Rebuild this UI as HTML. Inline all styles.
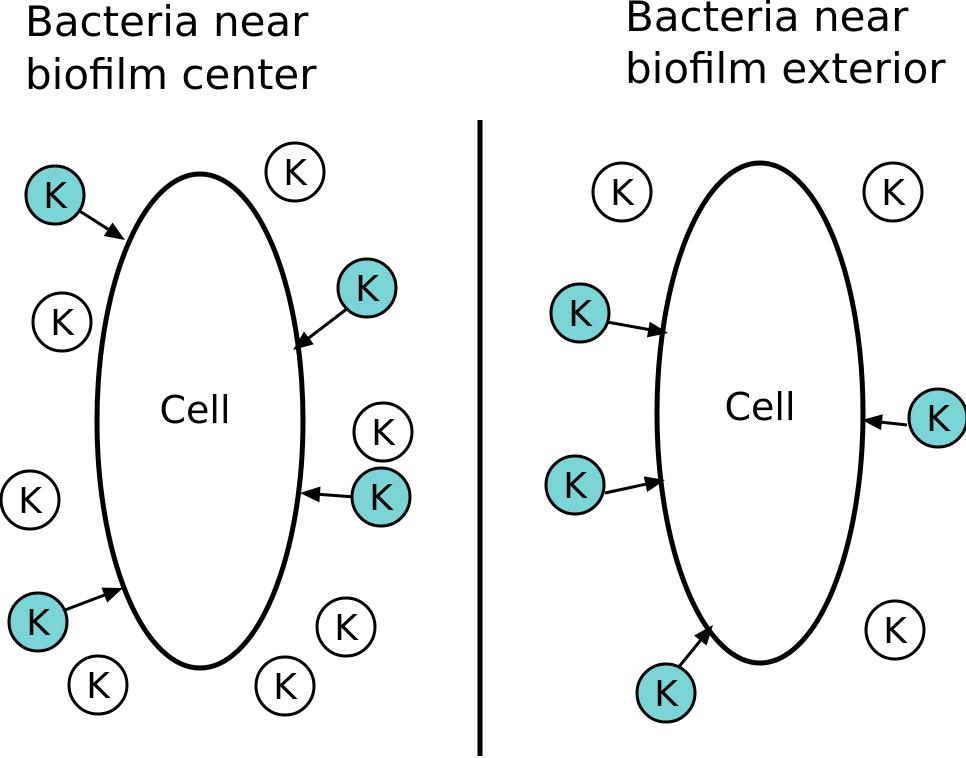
<!DOCTYPE html>
<html><head><meta charset="utf-8"><style>
html,body{margin:0;padding:0;background:#fff;}
svg{display:block;}
text{font-family:"DejaVu Sans","Liberation Sans",sans-serif;fill:#000;}
</style></head><body>
<svg width="966" height="758" viewBox="0 0 966 758">
<g>
<text x="25" y="36" font-size="42">Bacteria near</text>
<text x="25" y="89" font-size="42">biofilm center</text>
<ellipse cx="200" cy="421" rx="103" ry="247" fill="none" stroke="#000" stroke-width="5"/>
<text x="195" y="423" font-size="38" text-anchor="middle">Cell</text>
</g>
<g>
<text x="625" y="31" font-size="42">Bacteria near</text>
<text x="625" y="83" font-size="42">biofilm exterior</text>
<ellipse cx="760" cy="413" rx="103" ry="250" fill="none" stroke="#000" stroke-width="5"/>
<text x="760" y="420" font-size="38" text-anchor="middle">Cell</text>
</g>
<line x1="480" y1="120" x2="480" y2="756" stroke="#000" stroke-width="5"/>
<g id="arrows"></g>
<g id="ions"></g>
</svg>
<script>
const NS="http://www.w3.org/2000/svg";
const ionX=[55,295,367,62,383,381,30,38,346,98,285, 622,893,580,938,575,895,666];
const ionY=[195,172,288,322,432,497,500,622,627,685,686, 192,192,313,418,485,630,693];
const ionTeal=[1,0,1,0,0,1,0,1,0,0,0, 0,0,1,1,1,0,1];
const arrowFrom=[[78,210],[348,308],[355,497],[65,610],[607,322],[605,493],[907,425],[678,668]];
const arrowTo=[[125,240],[293,350],[300,493],[123,588],[668,333],[665,480],[862,420],[713,625]];
const ag=document.getElementById('arrows');
for(let i=0;i<arrowFrom.length;i++){
  const [x1,y1]=arrowFrom[i],[x2,y2]=arrowTo[i];
  const dx=x2-x1,dy=y2-y1,len=Math.hypot(dx,dy),ux=dx/len,uy=dy/len;
  const hl=20,hw=8;
  const bx=x2-ux*hl,by=y2-uy*hl;
  const l=document.createElementNS(NS,'line');
  l.setAttribute('x1',x1);l.setAttribute('y1',y1);
  l.setAttribute('x2',bx+ux*2);l.setAttribute('y2',by+uy*2);
  l.setAttribute('stroke','#000');l.setAttribute('stroke-width','3');
  
  
  ag.appendChild(l);
  const p=document.createElementNS(NS,'polygon');
  p.setAttribute('points',`${x2},${y2} ${bx-uy*hw},${by+ux*hw} ${bx+uy*hw},${by-ux*hw}`);
  p.setAttribute('fill','#000');
  
  
  ag.appendChild(p);
}
const ig=document.getElementById('ions');
for(let i=0;i<ionX.length;i++){
  const g=document.createElementNS(NS,'g');
  
  
  const c=document.createElementNS(NS,'circle');
  c.setAttribute('cx',ionX[i]);c.setAttribute('cy',ionY[i]);c.setAttribute('r',29);
  c.setAttribute('fill',ionTeal[i]?'#7bd5d7':'#fff');
  c.setAttribute('stroke','#000');c.setAttribute('stroke-width','3');
  g.appendChild(c);
  const t=document.createElementNS(NS,'text');
  t.setAttribute('x',ionX[i]);t.setAttribute('y',ionY[i]+13);
  t.setAttribute('font-size','36');t.setAttribute('text-anchor','middle');
  t.textContent='K';
  g.appendChild(t);
  ig.appendChild(g);
}
</script>
</body></html>
